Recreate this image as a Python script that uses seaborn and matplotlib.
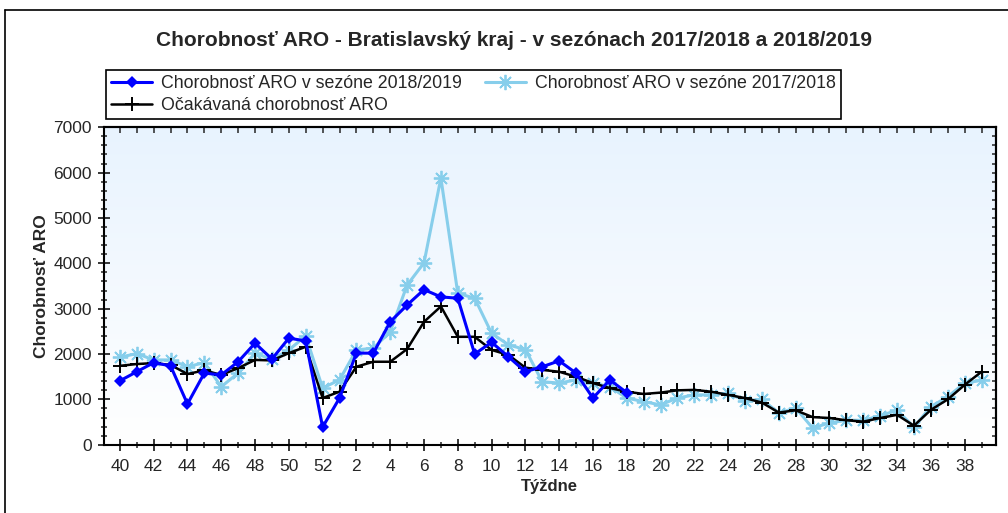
import numpy as np
import pandas as pd
import matplotlib
matplotlib.use("Agg")
import matplotlib.pyplot as plt
import seaborn as sns
from matplotlib.colors import LinearSegmentedColormap
from matplotlib.lines import Line2D
from matplotlib.ticker import FixedLocator, MultipleLocator

# ── Dáta (odčítané z grafu) ──────────────────────────────────────────────────
WEEKS = list(range(40, 53)) + list(range(1, 40))       # 52 týždňov sezóny

ARO_2018_19 = [1410, 1610, 1810, 1740, 900, 1580, 1540, 1830, 2240, 1890, 2350, 2290,
               390, 1030, 2020, 2020, 2710, 3080, 3420, 3260, 3230, 2000, 2260, 1940,
               1610, 1720, 1850, 1580, 1030, 1430, 1150]

ARO_2017_18 = [1930, 2010, 1870, 1870, 1720, 1810, 1280, 1580, 2020, 1880, 2090, 2400,
               1250, 1430, 2090, 2130, 2490, 3520, 4010, 5880, 3340, 3230, 2460, 2200,
               2100, 1390, 1360, 1430, 1360, 1280, 1030, 950, 880, 1030, 1100, 1100,
               1140, 970, 1000, 700, 810, 370, 480, 540, 540, 640, 760, 390,
               840, 1060, 1360, 1420]

ARO_EXPECTED = [1740, 1780, 1800, 1760, 1560, 1640, 1540, 1690, 1870, 1860, 2020, 2160,
                1030, 1170, 1720, 1830, 1830, 2110, 2710, 3050, 2380, 2380, 2090, 1980,
                1700, 1650, 1610, 1500, 1360, 1250, 1170, 1120, 1150, 1200, 1210, 1170,
                1100, 1030, 930, 710, 760, 610, 590, 540, 510, 590, 660, 420,
                770, 1000, 1320, 1610]

LABEL_1819 = "Chorobnosť ARO v sezóne 2018/2019"
LABEL_1718 = "Chorobnosť ARO v sezóne 2017/2018"
LABEL_EXP = "Očakávaná chorobnosť ARO"

pos = np.arange(len(WEEKS))
df_1718 = pd.DataFrame({"pos": pos, "aro": ARO_2017_18})
df_exp = pd.DataFrame({"pos": pos, "aro": ARO_EXPECTED})
df_1819 = pd.DataFrame({"pos": pos[:len(ARO_2018_19)], "aro": ARO_2018_19})

sns.set_theme(style="white")
plt.rcParams["font.family"] = ["Liberation Sans", "DejaVu Sans"]

fig = plt.figure(figsize=(10.08, 5.13), dpi=100)
ax = fig.add_axes([0.103, 0.133, 0.885, 0.619])

# pozadie – jemný prechod do modra
grad = LinearSegmentedColormap.from_list("bg", ["#ffffff", "#e8f3fe"])
ax.imshow(np.linspace(0, 1, 256).reshape(-1, 1), cmap=grad, origin="lower",
          extent=[0, 1, 0, 1], transform=ax.transAxes, aspect="auto", zorder=0)

sns.lineplot(data=df_1718, x="pos", y="aro", ax=ax, color="#87ceeb", lw=2.2,
             marker=(8, 2, 0), markersize=11, markeredgewidth=1.3,
             markeredgecolor="#87ceeb", label=LABEL_1718, zorder=2)
sns.lineplot(data=df_exp, x="pos", y="aro", ax=ax, color="black", lw=1.8,
             marker="+", markersize=10, markeredgewidth=1.4,
             markeredgecolor="black", label=LABEL_EXP, zorder=3)
sns.lineplot(data=df_1819, x="pos", y="aro", ax=ax, color="#0000ff", lw=2.2,
             marker="D", markersize=6.5, markeredgewidth=0,
             label=LABEL_1819, zorder=4)

ax.set_xlim(-0.95, 51.85)
ax.set_ylim(0, 7000)

ax.xaxis.set_major_locator(FixedLocator(pos[::2]))
ax.set_xticklabels([str(w) for w in WEEKS[::2]])
ax.xaxis.set_minor_locator(FixedLocator(pos[1::2]))
ax.yaxis.set_major_locator(MultipleLocator(1000))
ax.yaxis.set_minor_locator(MultipleLocator(200))
ax.tick_params(axis="x", which="major", direction="inout", length=8, width=1.3,
               labelsize=12.5, pad=6, bottom=True)
ax.tick_params(axis="x", which="minor", direction="inout", length=4, width=1.1,
               bottom=True)
ax.tick_params(axis="y", which="major", direction="inout", length=9, width=1.3,
               labelsize=12.5, pad=4, left=True)
ax.tick_params(axis="y", which="minor", direction="inout", length=5, width=1.1,
               left=True)

# horná a pravá os – krátke značky dovnútra
top = ax.secondary_xaxis("top")
top.xaxis.set_major_locator(FixedLocator(pos))
top.tick_params(direction="in", length=4, width=1.1, labeltop=False)
right = ax.secondary_yaxis("right")
right.yaxis.set_major_locator(MultipleLocator(200))
right.tick_params(direction="in", length=3, width=1.1, labelright=False)

for sp in list(ax.spines.values()) + [top.spines["top"], right.spines["right"]]:
    sp.set_color("black")
    sp.set_linewidth(1.5)

ax.set_xlabel("Týždne", fontsize=12, fontweight="bold", labelpad=4)
ax.set_ylabel("Chorobnosť ARO", fontsize=12.5, fontweight="bold", labelpad=3)

fig.text(0.510, 0.922,
         "Chorobnosť ARO - Bratislavský kraj - v sezónach 2017/2018 a 2018/2019",
         fontsize=15, fontweight="bold", ha="center", va="center")

handles, labels = ax.get_legend_handles_labels()
order = [labels.index(LABEL_1819), labels.index(LABEL_EXP), labels.index(LABEL_1718)]
ax.get_legend().remove()
leg = fig.legend([handles[i] for i in order], [labels[i] for i in order],
                 ncol=2, loc="upper left", bbox_to_anchor=(0.105, 0.8635),
                 fontsize=12.8, frameon=True, fancybox=False, framealpha=1,
                 edgecolor="black", handlelength=2.3, handletextpad=0.5,
                 columnspacing=1.3, borderpad=0.3, labelspacing=0.25,
                 borderaxespad=0)
leg.get_frame().set_linewidth(1.2)

# rám celého obrázka
fig.add_artist(Line2D([0.005, 0.005], [0, 0.981], color="black", lw=1.2))
fig.add_artist(Line2D([0.005, 1], [0.981, 0.981], color="black", lw=1.2))

fig.savefig("out.png", dpi=100)
